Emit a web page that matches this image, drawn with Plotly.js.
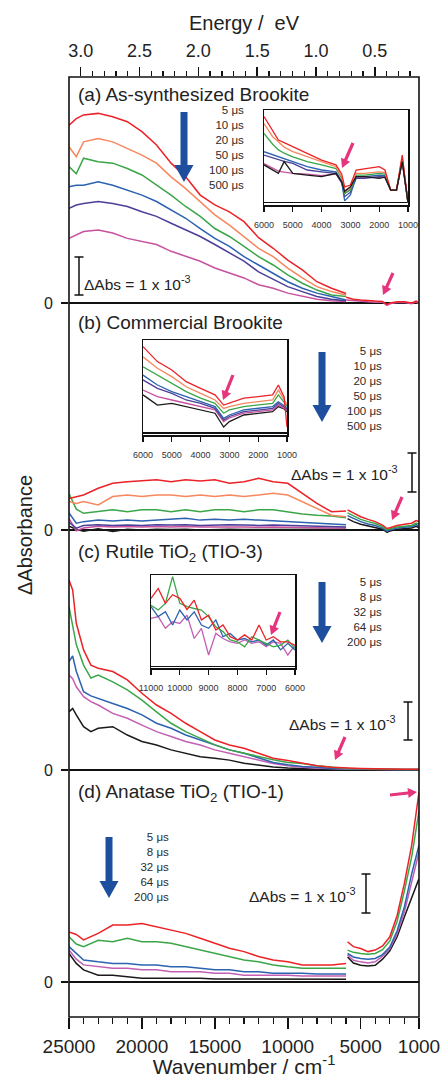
<!DOCTYPE html>
<html><head><meta charset="utf-8">
<script src="https://cdn.plot.ly/plotly-3.0.1.min.js"></script>
<style>html,body{margin:0;padding:0;background:#fff;}#chart{width:443px;height:1078px;}</style>
</head><body><div id="chart"></div>
<script>
// ---------- DATA (ΔAbs in units of 1e-3) ----------
const wnVis = [25000,24500,24000,23000,22000,21000,20000,19000,18000,17000,16000,15000,14000,13000,12000,11000,10000,9000,8000,7000,6000];
const a_red     = [4.68,4.85,4.95,4.99,4.90,4.77,4.51,4.16,3.68,3.32,2.84,2.58,2.40,2.14,1.72,1.44,1.13,0.87,0.56,0.39,0.25];
const a_orange  = [4.11,3.85,4.24,4.33,4.24,4.07,3.89,3.68,3.32,3.01,2.67,2.32,2.05,1.75,1.44,1.22,0.92,0.66,0.43,0.30,0.21];
const a_green   = [3.59,3.40,3.81,3.72,3.68,3.54,3.37,3.10,2.84,2.54,2.28,1.96,1.75,1.49,1.22,1.00,0.74,0.52,0.34,0.21,0.17];
const a_blue    = [3.06,3.10,3.10,3.19,3.10,2.97,2.84,2.67,2.45,2.23,1.96,1.70,1.49,1.22,1.00,0.78,0.56,0.39,0.26,0.17,0.08];
const a_indigo  = [2.49,2.58,2.62,2.67,2.62,2.54,2.40,2.28,2.10,1.92,1.75,1.54,1.32,1.10,0.82,0.62,0.43,0.30,0.17,0.10,0.06];
const a_magenta = [1.70,1.80,1.88,1.92,1.84,1.70,1.61,1.54,1.36,1.23,1.10,0.92,0.79,0.66,0.48,0.39,0.26,0.17,0.10,0.06,0.04];
const wnIRa = [6000,5500,5000,4500,4000,3500,3200,3000,2500,2000,1500,1200,1000];
const a_ir_red     = [0.15,0.10,0.08,0.06,0.05,0.04,-0.04,0.00,0.03,0.03,0.00,0.05,0.00];
const a_ir_magenta = [0.08,0.06,0.04,0.03,0.02,0.02,-0.06,-0.02,0.01,0.01,-0.02,0.03,-0.02];

const b_red     = [0.83,0.87,0.92,1.10,1.23,1.27,1.29,1.32,1.27,1.32,1.29,1.32,1.23,1.27,1.36,1.27,1.23,0.97,0.70,0.48,0.50];
const b_orange  = [0.75,0.70,0.75,0.66,0.88,0.92,0.88,0.92,0.92,0.88,0.92,0.88,0.92,0.88,0.92,0.97,0.92,0.75,0.57,0.39,0.35];
const b_green   = [0.96,0.55,0.44,0.48,0.53,0.48,0.53,0.53,0.48,0.53,0.48,0.53,0.53,0.48,0.53,0.53,0.48,0.42,0.39,0.37,0.32];
const b_blue    = [0.45,0.18,0.22,0.26,0.24,0.26,0.24,0.26,0.28,0.31,0.26,0.28,0.26,0.28,0.26,0.24,0.22,0.20,0.18,0.16,0.14];
const b_indigo  = [0.20,0.05,0.12,0.14,0.12,0.13,0.12,0.14,0.13,0.14,0.12,0.13,0.14,0.13,0.12,0.13,0.12,0.11,0.10,0.09,0.08];
const b_magenta = [0.30,-0.02,0.05,0.10,0.08,0.09,0.08,0.09,0.08,0.09,0.08,0.08,0.09,0.08,0.07,0.08,0.07,0.07,0.06,0.05,0.05];
const b_black   = [0.10,0.02,-0.03,0.03,-0.04,0.02,0.00,0.02,0.01,0.02,0.00,0.01,0.02,0.01,0.01,0.02,0.01,0.02,0.01,0.01,0.02];
const wnIRb = [5900,5500,5000,4500,4000,3500,3200,3000,2500,2000,1500,1200,1000];
const b_ir_red   = [0.53,0.45,0.35,0.28,0.22,0.13,0.04,0.06,0.12,0.15,0.18,0.25,0.22];
const b_ir_green = [0.45,0.38,0.28,0.22,0.17,0.09,0.00,0.03,0.08,0.10,0.12,0.18,0.15];
const b_ir_blue  = [0.38,0.30,0.22,0.16,0.12,0.05,-0.03,0.00,0.05,0.07,0.09,0.14,0.10];
const b_ir_black = [0.30,0.22,0.15,0.10,0.07,0.02,-0.06,-0.03,0.02,0.03,0.05,0.10,0.05];

const wnC = [25000,24750,24500,24000,23500,23000,22000,21000,20000,19000,18000,17000,16000,15000,14000,13000,12000,11000,10000,9000,8000,7000,6000,5000,4000,3000,2000,1000];
const c_red   = [5.00,4.74,3.86,3.16,2.76,2.68,2.59,2.37,2.02,1.71,1.49,1.23,1.01,0.79,0.66,0.57,0.44,0.31,0.25,0.18,0.11,0.07,0.05,0.04,0.03,0.02,0.02,0.02];
const c_green = [4.30,3.77,3.30,2.76,2.42,2.50,2.32,2.11,1.84,1.53,1.23,1.01,0.83,0.66,0.53,0.44,0.35,0.27,0.20,0.17,0.11,0.07,0.04,0.03,0.02,0.02,0.01,0.01];
const c_blue  = [2.85,3.00,2.60,2.06,1.95,1.89,1.75,1.62,1.45,1.23,1.10,0.92,0.79,0.66,0.53,0.44,0.31,0.20,0.14,0.09,0.07,0.04,0.03,0.02,0.02,0.01,0.01,0.01];
const c_pink  = [2.50,2.40,2.19,1.93,1.80,1.71,1.49,1.36,1.18,1.01,0.88,0.75,0.66,0.53,0.44,0.35,0.26,0.17,0.11,0.07,0.05,0.03,0.02,0.02,0.01,0.01,0.01,0.01];
const c_black = [1.53,1.62,1.45,1.14,1.01,1.10,1.14,0.92,0.75,0.66,0.53,0.44,0.35,0.31,0.26,0.18,0.13,0.08,0.05,0.03,0.02,0.01,0.00,0.00,0.00,0.00,0.00,0.00];

const d_red   = [1.32,1.25,1.11,1.28,1.50,1.50,1.54,1.45,1.37,1.28,1.15,1.02,0.89,0.80,0.67,0.58,0.53,0.45,0.45,0.45,0.49];
const d_green = [1.19,1.00,0.93,1.10,1.06,1.15,1.06,1.06,1.02,0.93,0.84,0.75,0.67,0.58,0.53,0.45,0.40,0.36,0.36,0.36,0.36];
const d_blue  = [0.93,0.75,0.58,0.53,0.49,0.49,0.45,0.45,0.40,0.40,0.36,0.32,0.32,0.27,0.27,0.23,0.23,0.23,0.21,0.21,0.21];
const d_pink  = [0.84,0.60,0.45,0.40,0.36,0.36,0.32,0.32,0.27,0.27,0.27,0.23,0.23,0.18,0.18,0.18,0.18,0.16,0.16,0.16,0.16];
const d_black = [0.75,0.49,0.32,0.18,0.18,0.14,0.10,0.10,0.10,0.10,0.10,0.08,0.08,0.08,0.08,0.07,0.07,0.07,0.07,0.07,0.07];
const wnIRd = [5900,5500,5000,4500,4000,3500,3000,2500,2000,1500,1000];
const d_ir_red   = [1.06,0.93,0.88,0.80,0.84,0.95,1.19,1.75,2.60,3.60,5.00];
const d_ir_green = [0.84,0.78,0.75,0.73,0.75,0.85,1.08,1.60,2.40,3.30,4.50];
const d_ir_blue  = [0.75,0.66,0.62,0.60,0.62,0.72,0.92,1.35,1.98,2.85,3.60];
const d_ir_pink  = [0.71,0.57,0.53,0.50,0.53,0.68,0.88,1.28,1.85,2.60,3.42];
const d_ir_black = [0.66,0.50,0.44,0.42,0.44,0.60,0.82,1.19,1.72,2.24,2.72];

// insets (arbitrary units)
const wnInA = [6000,5700,5500,5300,5000,4500,4000,3500,3300,3200,3000,2800,2500,2000,1800,1600,1400,1200,1000];
const ia_red     = [2.87,2.40,2.09,2.00,1.86,1.64,1.42,1.26,0.95,0.53,0.59,1.09,1.14,1.20,1.09,0.42,0.42,1.59,0.00];
const ia_orange  = [2.64,2.20,2.03,1.85,1.70,1.53,1.37,1.20,0.85,0.42,0.50,0.98,0.98,1.03,1.00,0.42,0.42,1.53,0.00];
const ia_green   = [2.31,1.95,1.76,1.65,1.53,1.37,1.26,1.14,0.80,0.31,0.42,0.92,0.92,0.98,0.95,0.42,0.42,1.48,0.00];
const ia_blue    = [1.70,1.60,1.53,1.45,1.37,1.20,1.09,1.03,0.70,0.06,0.26,0.87,0.87,0.92,0.90,0.42,0.42,1.42,0.00];
const ia_indigo  = [1.59,1.50,1.42,1.38,1.31,1.09,1.03,0.98,0.65,0.20,0.35,0.81,0.81,0.87,0.85,0.42,0.42,1.40,0.00];
const ia_magenta = [1.30,1.15,1.05,1.02,0.98,0.95,0.90,0.95,0.68,0.30,0.45,0.85,0.85,0.85,0.85,0.42,0.42,1.38,0.00];
const ia_black   = [1.26,1.10,0.98,1.37,0.98,0.92,0.87,0.98,0.70,0.37,0.53,0.87,0.87,0.81,0.85,0.42,0.42,1.37,0.00];

const wnInB = [6000,5500,5000,4500,4000,3500,3200,3000,2500,2000,1500,1300,1100,1000];
const ib_red     = [2.88,2.38,2.10,1.71,1.49,1.27,0.93,0.99,1.16,1.21,1.27,1.60,1.20,0.20];
const ib_orange  = [2.54,2.16,1.88,1.54,1.32,1.10,0.82,0.88,0.99,1.04,1.10,1.43,1.10,0.95];
const ib_green   = [2.21,1.93,1.66,1.38,1.16,0.99,0.66,0.77,0.88,0.93,0.99,1.27,1.00,0.90];
const ib_blue    = [1.93,1.60,1.38,1.21,1.04,0.88,0.49,0.60,0.77,0.82,0.88,1.04,0.90,0.85];
const ib_indigo  = [1.77,1.49,1.32,1.10,0.99,0.82,0.43,0.55,0.71,0.77,0.82,0.99,0.85,0.80];
const ib_magenta = [1.43,1.21,1.10,0.99,0.88,0.77,0.38,0.50,0.66,0.71,0.77,0.93,0.82,0.77];
const ib_black   = [1.27,0.93,0.99,0.88,0.77,0.66,0.20,0.38,0.60,0.66,0.71,0.88,0.80,0.71];

const wnInC = [11000,10750,10500,10250,10000,9750,9500,9250,9000,8750,8500,8250,8000,7750,7500,7250,7000,6750,6500,6250,6000];
const ic_red   = [2.28,2.61,2.11,2.40,2.28,1.90,2.22,1.56,1.72,1.22,1.39,1.00,0.89,1.06,0.89,1.39,0.89,1.00,0.83,0.83,0.72];
const ic_green = [2.05,1.89,2.11,3.00,2.11,2.00,1.94,1.89,1.67,1.33,1.17,0.89,0.83,0.66,1.00,0.89,0.78,0.66,0.72,0.89,0.61];
const ic_blue  = [2.00,1.67,1.83,1.39,1.89,1.56,1.83,1.39,1.28,1.56,1.00,1.11,0.89,0.94,0.83,0.89,0.72,0.89,0.56,0.78,0.56];
const ic_pink  = [1.61,1.67,1.28,1.50,1.44,1.72,0.94,1.28,0.39,1.11,0.94,0.83,0.78,0.89,0.78,0.83,0.67,0.83,0.78,0.39,0.72];

const legendAB = ['5 μs','10 μs','20 μs','50 μs','100 μs','500 μs'];
const legendCD = ['5 μs','8 μs','32 μs','64 μs','200 μs'];
const panelTitles = ['(a) As-synthesized Brookite','(b) Commercial Brookite','(c) Rutile TiO<sub>2</sub> (TIO-3)','(d) Anatase TiO<sub>2</sub> (TIO-1)'];
const bottomTicks = [25000,20000,15000,10000,5000,1000];
const insetTicksAB = [6000,5000,4000,3000,2000,1000];
const insetTicksC = [11000,10000,9000,8000,7000,6000];
const EV = 8065.54;

// ---------- LAYOUT HELPERS ----------
const L=69,R=419,T=77,B=1017,W=R-L,H=B-T;
const px = x => (x-L)/W, py = y => (B-y)/H;
const S = 38; // px per 1e-3
const panels = [{top:77,bot:306,zero:303},{top:303,bot:533,zero:530},{top:530,bot:773,zero:770},{top:770,bot:1017,zero:982}];
const insets = [{l:264,r:408,t:110,b:205,zero:202.7,ticks:insetTicksAB,range:[6000,1000]},
                {l:143,r:287,t:340,b:435,zero:433,ticks:insetTicksAB,range:[6000,1000]},
                {l:151,r:295,t:575,b:668,zero:666.7,ticks:insetTicksC,range:[11000,6000]}];
const SI = 30;
const FONT = 'Arial, "Liberation Sans", sans-serif';
const C = {red:'#ec2227',orange:'#f6875e',green:'#3aa648',blue:'#2c62b0',indigo:'#4b3f98',magenta:'#c7519f',pink:'#c35fb4',black:'#1a1a1a'};

const traces = [];
function ln(x,y,color,xa,ya,w){traces.push({type:'scatter',mode:'lines',x:x,y:y,xaxis:xa,yaxis:ya,line:{color:color,width:w||1.5},hoverinfo:'skip',showlegend:false});}
// (a)
[[a_magenta,C.magenta],[a_indigo,C.indigo],[a_blue,C.blue],[a_green,C.green],[a_orange,C.orange],[a_red,C.red]].forEach(s=>ln(wnVis,s[0],s[1],'x','y'));
ln(wnIRa,a_ir_magenta,C.magenta,'x','y'); ln(wnIRa,a_ir_red,C.red,'x','y');
// (b)
[[b_black,C.black],[b_magenta,C.magenta],[b_indigo,C.indigo],[b_blue,C.blue],[b_green,C.green],[b_orange,C.orange],[b_red,C.red]].forEach(s=>ln(wnVis,s[0],s[1],'x','y2'));
[[b_ir_black,C.black],[b_ir_blue,C.blue],[b_ir_green,C.green],[b_ir_red,C.red]].forEach(s=>ln(wnIRb,s[0],s[1],'x','y2'));
// (c)
[[c_black,C.black],[c_pink,C.pink],[c_blue,C.blue],[c_green,C.green],[c_red,C.red]].forEach(s=>ln(wnC,s[0],s[1],'x','y3'));
// (d)
[[d_black,C.black],[d_pink,C.pink],[d_blue,C.blue],[d_green,C.green],[d_red,C.red]].forEach(s=>ln(wnVis,s[0],s[1],'x','y4'));
[[d_ir_black,C.black],[d_ir_pink,C.pink],[d_ir_blue,C.blue],[d_ir_green,C.green],[d_ir_red,C.red]].forEach(s=>ln(wnIRd,s[0],s[1],'x','y4'));
// insets
[[ia_magenta,C.magenta],[ia_indigo,C.indigo],[ia_blue,C.blue],[ia_green,C.green],[ia_orange,C.orange],[ia_red,C.red],[ia_black,C.black]].forEach(s=>ln(wnInA,s[0],s[1],'x5','y5',1.3));
[[ib_black,C.black],[ib_magenta,C.magenta],[ib_indigo,C.indigo],[ib_blue,C.blue],[ib_green,C.green],[ib_orange,C.orange],[ib_red,C.red]].forEach(s=>ln(wnInB,s[0],s[1],'x6','y6',1.3));
[[ic_pink,C.pink],[ic_blue,C.blue],[ic_green,C.green],[ic_red,C.red]].forEach(s=>ln(wnInC,s[0],s[1],'x7','y7',1.3));
// energy axis carrier
traces.push({type:'scatter',mode:'lines',x:[null],y:[null],xaxis:'x2',yaxis:'y',hoverinfo:'skip',showlegend:false});

const layout = {
  width:443,height:1078,margin:{l:L,r:443-R,t:T,b:1078-B,pad:0},
  paper_bgcolor:'#fff',plot_bgcolor:'rgba(0,0,0,0)',showlegend:false,
  font:{family:FONT,color:'#222'},
  xaxis:{domain:[0,1],anchor:'y4',range:[25000,1000],showgrid:false,zeroline:false,showline:false,
    tickmode:'array',tickvals:bottomTicks,ticktext:bottomTicks.map(String),ticks:'outside',ticklen:11,tickwidth:1.5,tickcolor:'#111',
    minor:{dtick:1000,tick0:0,ticks:'outside',ticklen:6,tickwidth:1.3,tickcolor:'#111',showgrid:false},
    tickfont:{size:19,color:'#222'},ticklabelstandoff:1,
    title:{text:'Wavenumber / cm<sup>-1</sup>',font:{size:21,color:'#222'},standoff:2}},
  xaxis2:{overlaying:'x',anchor:'y',side:'top',range:[25000/EV,1000/EV],showgrid:false,zeroline:false,showline:false,
    tickmode:'linear',tick0:0,dtick:0.5,tickformat:'.1f',ticks:'outside',ticklen:9,tickwidth:1.5,tickcolor:'#111',
    minor:{dtick:0.1,tick0:0,ticks:'outside',ticklen:5,tickwidth:1.3,tickcolor:'#111',showgrid:false},
    tickfont:{size:18,color:'#222'},ticklabelstandoff:3,
    title:{text:'Energy /  eV',font:{size:20,color:'#222'},standoff:4}},
  shapes:[], annotations:[]
};
panels.forEach((p,i)=>{
  const key = i===0?'yaxis':'yaxis'+(i+1);
  layout[key] = {domain:[py(p.bot),py(p.top)],anchor:'x',range:[-(p.bot-p.zero)/S,(p.zero-p.top)/S],
    showgrid:false,showline:false,zeroline:true,zerolinecolor:'#111',zerolinewidth:1.5,
    tickmode:'array',tickvals:[0],ticktext:['0'],ticks:'outside',ticklen:7,tickwidth:1.5,tickcolor:'#111',
    tickfont:{size:16,color:'#222'},ticklabelstandoff:5};
  layout.annotations.push({xref:'paper',yref:'paper',x:px(76),y:py([95,322,553,793][i]),xanchor:'left',yanchor:'middle',
    text:panelTitles[i],showarrow:false,font:{size:19,color:'#222'}});
});
insets.forEach((q,i)=>{
  const n=i+5;
  layout['xaxis'+n] = {domain:[px(q.l),px(q.r)],anchor:'y'+n,range:q.range,showgrid:false,zeroline:false,
    showline:true,mirror:true,linecolor:'#111',linewidth:1.5,tickmode:'array',tickvals:q.ticks,ticktext:q.ticks.map(String),
    ticks:'outside',ticklen:5,tickwidth:1.3,tickcolor:'#111',tickfont:{size:9,color:'#333'},ticklabelstandoff:6};
  layout['yaxis'+n] = {domain:[py(q.b),py(q.t)],anchor:'x'+n,range:[-(q.b-q.zero)/SI,(q.zero-q.t)/SI],showgrid:false,
    zeroline:true,zerolinecolor:'#111',zerolinewidth:1.2,showline:true,mirror:true,linecolor:'#111',linewidth:1.5,
    showticklabels:false,ticks:''};
});
// frame
layout.shapes.push({type:'rect',xref:'paper',yref:'paper',x0:0,x1:1,y0:0,y1:1,line:{color:'#111',width:1.6},layer:'above'});
// arrows
function arrowPath(x1,y1,x2,y2,sw,hw,hl){
  const dx=x2-x1,dy=y2-y1,len=Math.hypot(dx,dy),ux=dx/len,uy=dy/len,nx=-uy,ny=ux,bx=x2-ux*hl,by=y2-uy*hl;
  const pts=[[x1+nx*sw/2,y1+ny*sw/2],[bx+nx*sw/2,by+ny*sw/2],[bx+nx*hw/2,by+ny*hw/2],[x2,y2],[bx-nx*hw/2,by-ny*hw/2],[bx-nx*sw/2,by-ny*sw/2],[x1-nx*sw/2,y1-ny*sw/2]];
  return 'M'+pts.map(p=>px(p[0]).toFixed(5)+','+py(p[1]).toFixed(5)).join(' L')+' Z';
}
function arrow(x1,y1,x2,y2,sw,hw,hl,color){layout.shapes.push({type:'path',xref:'paper',yref:'paper',path:arrowPath(x1,y1,x2,y2,sw,hw,hl),fillcolor:color,line:{width:0},layer:'above'});}
const BLUE='#1d4f9e', PINK='#e6357c';
arrow(184,112,184,182,7,19,17,BLUE); arrow(322,352,322,422,7,19,17,BLUE);
arrow(322,582,322,643,7,19,17,BLUE); arrow(109,837,109,898,7,19,17,BLUE);
[[353,143,342,168],[393,273,383,295],[233,375,223,400],[402,497,392,520],[280,612,271,635],[345,737,335,760],[390,795,417,792]]
  .forEach(a=>arrow(a[0],a[1],a[2],a[3],3.2,10,9,PINK));
// legends (one block of lines each, centred on the reference block)
function legend(list,xr,yMid){layout.annotations.push({xref:'paper',yref:'paper',x:px(xr),y:py(yMid),xanchor:'right',yanchor:'middle',align:'right',
  text:list.join('<br>'),showarrow:false,font:{size:11.5,color:'#2a2a2a'}});}
legend(legendAB,246,147.5); legend(legendAB,384,388.5); legend(legendCD,384,612); legend(legendCD,171,867);
// scale bars
function bar(x,y1,y2){
  layout.shapes.push({type:'line',xref:'paper',yref:'paper',x0:px(x),x1:px(x),y0:py(y1),y1:py(y2),line:{color:'#111',width:1.5}});
  [y1,y2].forEach(y=>layout.shapes.push({type:'line',xref:'paper',yref:'paper',x0:px(x-4.5),x1:px(x+4.5),y0:py(y),y1:py(y),line:{color:'#111',width:1.5}}));
}
bar(79,257,295); bar(412,453,492); bar(408,702,740); bar(366,874,913);
const sbText='ΔAbs = 1 x 10<sup>-3</sup>';
[[82,283,'left'],[400,473,'right'],[398,723,'right'],[358,895,'right']].forEach(s=>layout.annotations.push({xref:'paper',yref:'paper',x:px(s[0]),y:py(s[1]),xanchor:s[2],yanchor:'middle',text:sbText,showarrow:false,font:{size:15.5,color:'#222'}}));
// y title
layout.annotations.push({xref:'paper',yref:'paper',x:px(25),y:py(535),xanchor:'center',yanchor:'middle',textangle:-90,text:'ΔAbsorbance',showarrow:false,font:{size:20,color:'#222'}});

Plotly.newPlot('chart',traces,layout,{staticPlot:true,displayModeBar:false});
</script></body></html>
